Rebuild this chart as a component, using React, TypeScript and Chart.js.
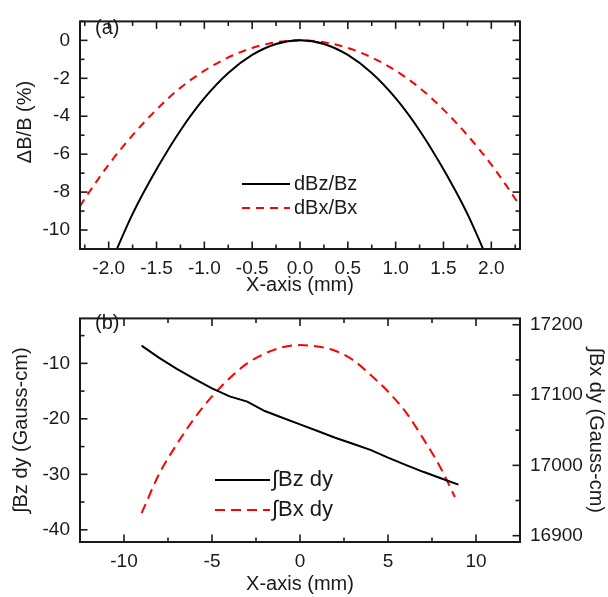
import React, { useEffect, useRef } from 'react';
import { Chart, registerables } from 'chart.js';

Chart.register(...registerables);

// ---------- Panel (a) data ----------
const aBzX = [-2.0, -1.75, -1.5, -1.25, -1.0, -0.75, -0.5, -0.25, 0, 0.25, 0.5, 0.75, 1.0, 1.25, 1.5, 1.75, 2.0];
const aBzY = [-12.0, -9.15, -6.8, -4.75, -3.05, -1.72, -0.77, -0.19, 0, -0.19, -0.77, -1.72, -3.05, -4.75, -6.8, -9.15, -12.0];
const aBxX = [-2.3, -2.25, -2.0, -1.75, -1.5, -1.25, -1.0, -0.75, -0.5, -0.25, 0, 0.25, 0.5, 0.75, 1.0, 1.25, 1.5, 1.75, 2.0, 2.25, 2.3];
const aBxY = [-8.75, -8.35, -6.55, -5.0, -3.65, -2.5, -1.6, -0.9, -0.4, -0.1, 0, -0.1, -0.4, -0.9, -1.6, -2.5, -3.65, -5.0, -6.55, -8.35, -8.75];

const aXMajor = [-2.0, -1.5, -1.0, -0.5, 0, 0.5, 1.0, 1.5, 2.0];
const aXMinor = [-2.25, -1.75, -1.25, -0.75, -0.25, 0.25, 0.75, 1.25, 1.75, 2.25];
const aYMajor = [-10, -8, -6, -4, -2, 0];
const aYMinor = [-9, -7, -5, -3, -1, 1];

// ---------- Panel (b) data ----------
const bBzX = [-9, -8, -7, -6, -5, -4, -3, -2, -1, 0, 1, 2, 3, 4, 5, 6, 7, 8, 9];
const bBzY = [-6.8, -9.0, -11.0, -12.8, -14.5, -15.95, -16.9, -18.6, -19.8, -21.0, -22.2, -23.4, -24.5, -25.6, -27.0, -28.3, -29.55, -30.7, -31.85];
const bBxX = [-9, -8, -7, -6, -5, -4, -3, -2, -1, 0, 1, 2, 3, 4, 5, 6, 7, 8, 8.8];
const bBxY = [16932, 16988, 17030, 17067, 17098, 17124, 17145, 17159, 17168, 17171, 17169, 17163, 17150, 17129, 17105, 17076, 17038, 16996, 16955];

const bXMajor = [-10, -5, 0, 5, 10];
const bXMinor = [-7.5, -2.5, 2.5, 7.5];
const bYMajor = [-40, -30, -20, -10];
const bYMinor = [-35, -25, -15, -5];
const bY2Major = [16900, 17000, 17100, 17200];
const bY2Minor = [16950, 17050, 17150];

const FONT = "'Liberation Sans', Arial, Helvetica, sans-serif";
const INK = '#1a1a1a';
const RED = '#ff0000';

const xy = (xs: number[], ys: number[]) => xs.map((x, i) => ({ x, y: ys[i] }));

type TickSpec = { id: string; sides: string[]; major: number[]; minor: number[] };
type LegendSpec = { x0: number; x1: number; tx: number; ys: number[]; size: number };
type TextSpec = { text: string; x: number; y: number; rot?: number };

function framePlugin(ticks: TickSpec[], legend: LegendSpec, texts: TextSpec[]) {
  return {
    id: 'frameTicks',
    afterDatasetsDraw(chart: any) {
      const { ctx, chartArea: a } = chart;
      ctx.save();
      ctx.strokeStyle = INK;
      ctx.lineWidth = 2;
      ctx.setLineDash([]);
      ctx.strokeRect(a.left, a.top, a.right - a.left, a.bottom - a.top);
      ctx.lineWidth = 1.6;
      for (const t of ticks) {
        const scale = chart.scales[t.id];
        const mark = (v: number, len: number) => {
          const p = scale.getPixelForValue(v);
          for (const side of t.sides) {
            ctx.beginPath();
            if (side === 'bottom') { ctx.moveTo(p, a.bottom); ctx.lineTo(p, a.bottom - len); }
            if (side === 'top') { ctx.moveTo(p, a.top); ctx.lineTo(p, a.top + len); }
            if (side === 'left') { ctx.moveTo(a.left, p); ctx.lineTo(a.left + len, p); }
            if (side === 'right') { ctx.moveTo(a.right, p); ctx.lineTo(a.right - len, p); }
            ctx.stroke();
          }
        };
        t.major.forEach((v) => mark(v, 7.5));
        t.minor.forEach((v) => mark(v, 4.5));
      }
      // legend
      ctx.font = `${legend.size}px ${FONT}`;
      ctx.textBaseline = 'middle';
      ctx.textAlign = 'left';
      chart.data.datasets.forEach((ds: any, i: number) => {
        const y = legend.ys[i];
        ctx.strokeStyle = ds.borderColor;
        ctx.lineWidth = ds.borderWidth;
        ctx.setLineDash(ds.borderDash || []);
        ctx.beginPath();
        ctx.moveTo(legend.x0, y);
        ctx.lineTo(legend.x1, y);
        ctx.stroke();
        ctx.setLineDash([]);
        ctx.fillStyle = INK;
        ctx.fillText(ds.label, legend.tx, y);
      });
      ctx.font = `20px ${FONT}`;
      ctx.fillStyle = INK;
      for (const t of texts) {
        ctx.save();
        ctx.translate(t.x, t.y);
        if (t.rot) {
          ctx.rotate(t.rot);
          ctx.textAlign = 'center';
        } else {
          ctx.textAlign = 'left';
        }
        ctx.fillText(t.text, 0, 0);
        ctx.restore();
      }
      ctx.restore();
    },
  };
}

const tickFont = { family: FONT, size: 19 };
const titleFont = { family: FONT, size: 20 };

function setTicks(vals: number[]) {
  return (s: any) => {
    s.ticks = vals.map((v) => ({ value: v }));
  };
}

function PanelA() {
  const ref = useRef<HTMLCanvasElement>(null);
  useEffect(() => {
    const chart = new Chart(ref.current!, {
      type: 'line',
      data: {
        datasets: [
          { label: 'dBz/Bz', data: xy(aBzX, aBzY), borderColor: '#000000', borderWidth: 2, pointRadius: 0, cubicInterpolationMode: 'monotone', fill: false },
          { label: 'dBx/Bx', data: xy(aBxX, aBxY), borderColor: RED, borderWidth: 2, borderDash: [8, 6], pointRadius: 0, cubicInterpolationMode: 'monotone', fill: false },
        ],
      },
      options: {
        responsive: false,
        animation: false,
        devicePixelRatio: 1,
        layout: { padding: { top: 15, right: 88, left: 0, bottom: 0 } },
        plugins: { legend: { display: false }, tooltip: { enabled: false } },
        scales: {
          x: {
            type: 'linear', min: -2.3, max: 2.3, bounds: 'data',
            afterBuildTicks: setTicks(aXMajor),
            afterFit: (s: any) => { s.height = 48; },
            grid: { display: false, drawTicks: false }, border: { display: false },
            ticks: { font: tickFont, color: INK, padding: 8, maxRotation: 0, autoSkip: false, callback: (v: any) => Number(v).toFixed(1) },
            title: { display: true, text: 'X-axis (mm)', font: titleFont, color: INK, padding: { top: 0, bottom: 0 } },
          },
          y: {
            type: 'linear', min: -11, max: 1, bounds: 'data',
            afterBuildTicks: setTicks(aYMajor),
            afterFit: (s: any) => { s.width = 80; },
            grid: { display: false, drawTicks: false }, border: { display: false },
            ticks: { font: tickFont, color: INK, padding: 10, autoSkip: false, callback: (v: any) => String(v) },
            title: { display: false },
          },
        },
      } as any,
      plugins: [
        framePlugin(
          [
            { id: 'x', sides: ['bottom', 'top'], major: aXMajor, minor: aXMinor },
            { id: 'y', sides: ['left', 'right'], major: aYMajor, minor: aYMinor },
          ],
          { x0: 242, x1: 290, tx: 294, ys: [184, 208], size: 20 },
          [
            { text: '(a)', x: 95, y: 28 },
            { text: '\u0394B/B (%)', x: 25.5, y: 122, rot: -Math.PI / 2 },
          ],
        ),
      ],
    });
    return () => chart.destroy();
  }, []);
  return <canvas ref={ref} width={608} height={297} style={{ display: 'block', width: 608, height: 297 }} />;
}

function PanelB() {
  const ref = useRef<HTMLCanvasElement>(null);
  useEffect(() => {
    const chart = new Chart(ref.current!, {
      type: 'line',
      data: {
        datasets: [
          { label: '\u222BBz dy', data: xy(bBzX, bBzY), borderColor: '#000000', borderWidth: 2, pointRadius: 0, tension: 0, fill: false, yAxisID: 'y' },
          { label: '\u222BBx dy', data: xy(bBxX, bBxY), borderColor: RED, borderWidth: 2, borderDash: [10, 6], pointRadius: 0, cubicInterpolationMode: 'monotone', fill: false, yAxisID: 'y2' },
        ],
      },
      options: {
        responsive: false,
        animation: false,
        devicePixelRatio: 1,
        layout: { padding: { top: 10, right: 0, left: 0, bottom: 0 } },
        plugins: { legend: { display: false }, tooltip: { enabled: false } },
        scales: {
          x: {
            type: 'linear', min: -12.5, max: 12.5, bounds: 'data',
            afterBuildTicks: setTicks(bXMajor),
            afterFit: (s: any) => { s.height = 55; },
            grid: { display: false, drawTicks: false }, border: { display: false },
            ticks: { font: tickFont, color: INK, padding: 8, maxRotation: 0, autoSkip: false, callback: (v: any) => String(v) },
            title: { display: true, text: 'X-axis (mm)', font: titleFont, color: INK, padding: { top: 0, bottom: 1 } },
          },
          y: {
            type: 'linear', position: 'left', min: -42.2, max: -1.9, bounds: 'data',
            afterBuildTicks: setTicks(bYMajor),
            afterFit: (s: any) => { s.width = 80; },
            grid: { display: false, drawTicks: false }, border: { display: false },
            ticks: { font: tickFont, color: INK, padding: 10, autoSkip: false, callback: (v: any) => String(v) },
            title: { display: true, text: '\u222BBz dy (Gauss-cm)', font: titleFont, color: INK, padding: { top: 9, bottom: 0 } },
          },
          y2: {
            type: 'linear', position: 'right', min: 16891, max: 17209, bounds: 'data',
            afterBuildTicks: setTicks(bY2Major),
            afterFit: (s: any) => { s.width = 88; },
            grid: { display: false, drawTicks: false }, border: { display: false },
            ticks: { font: tickFont, color: INK, padding: 10, autoSkip: false, callback: (v: any) => String(v) },
            title: { display: true, text: '\u222BBx dy (Gauss-cm)', font: titleFont, color: INK, padding: { top: 0, bottom: 0 } },
          },
        },
      } as any,
      plugins: [
        framePlugin(
          [
            { id: 'x', sides: ['bottom', 'top'], major: bXMajor, minor: bXMinor },
            { id: 'y', sides: ['left'], major: bYMajor, minor: bYMinor },
            { id: 'y2', sides: ['right'], major: bY2Major, minor: bY2Minor },
          ],
          { x0: 215, x1: 270, tx: 272, ys: [183, 213], size: 22 },
          [{ text: '(b)', x: 95, y: 26 }],
        ),
      ],
    });
    return () => chart.destroy();
  }, []);
  return <canvas ref={ref} width={608} height={300} style={{ display: 'block', width: 608, height: 300 }} />;
}

export default function App() {
  return (
    <div style={{ position: 'absolute', left: 0, top: 0, width: 608, height: 597, background: '#ffffff' }}>
      <PanelA />
      <PanelB />
    </div>
  );
}
